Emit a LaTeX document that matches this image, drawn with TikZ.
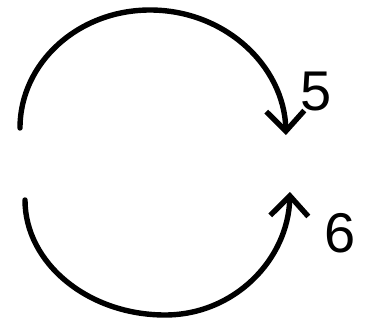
\documentclass[tikz,border=0pt]{standalone}
\usepackage{fontspec}
\setmainfont{Liberation Sans}
\usetikzlibrary{arrows.meta}
\begin{document}
\begin{tikzpicture}[x=0.5pt,y=-0.5pt,line cap=round,line join=round,
	turn/.style={line width=2.7pt,-{Straight Barb[length=10pt,width=19pt,line width=2.7pt]}},
	lbl/.style={font=\fontsize{28}{30}\selectfont,inner sep=0pt}]
			\useasboundingbox (0,0) rectangle (377,322);
			\coordinate (A) at (20,128);
			\coordinate (B) at (286,135);
			\coordinate (C) at (25,200);
			\coordinate (D) at (290,192);
			\draw[turn] (A) .. controls (20,63) and (78,10) .. (150,10) .. controls (225,10) and (284,66) .. (B);
			\draw[turn] (C) .. controls (25,263) and (88,315) .. (165,315) .. controls (234,315) and (288,260) .. (D);
			\node[lbl] (five) at (316,92) {5};
			\node[lbl] (six) at (340,233) {6};
		\end{tikzpicture}
\end{document}
